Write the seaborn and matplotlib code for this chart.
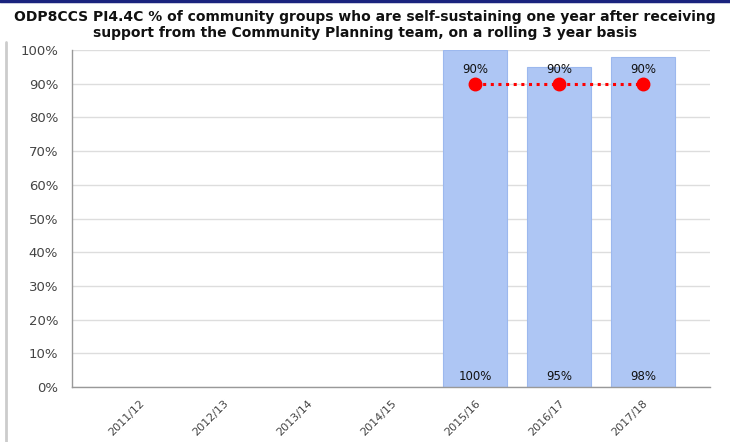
import pandas as pd
import seaborn as sns
import matplotlib.pyplot as plt
from matplotlib.lines import Line2D

years = ['2011/12', '2012/13', '2013/14', '2014/15', '2015/16', '2016/17', '2017/18']
actual = [None, None, None, None, 100, 95, 98]
target = [None, None, None, None, 90, 90, 90]

df = pd.DataFrame({'Year': years, 'Actual': actual, 'Target': target})

sns.set_style('white')
plt.rcParams['font.family'] = ['DejaVu Sans']

fig = plt.figure(figsize=(7.3, 4.42), dpi=100)
ax = fig.add_axes([72/730, 1 - 387/442, 638/730, 337/442])

sns.barplot(x='Year', y='Actual', data=df, order=years, color='#aec6f4',
            width=0.76, ax=ax, saturation=1, edgecolor='#9cb8ee', linewidth=0.8)

pos = list(range(len(years)))
tx = [p for p, t in zip(pos, target) if t is not None]
ty = [t for t in target if t is not None]
ax.plot(tx, ty, color='red', linestyle=(0, (1, 1.5)), linewidth=2.2,
        marker='o', markersize=9, zorder=5)

for p, a, t in zip(pos, actual, target):
    if a is not None:
        ax.text(p, 1.3, f'{a}%', ha='center', va='bottom', fontsize=8.5, color='#111111')
    if t is not None:
        ax.text(p, t + 2.3, f'{t}%', ha='center', va='bottom', fontsize=8.5, color='#111111')

ax.set_xlim(-0.8, 6.8)
ax.set_ylim(0, 100)
ax.set_yticks(range(0, 101, 10))
ax.set_yticklabels([f'{v}%' for v in range(0, 101, 10)], fontsize=9.5, color='#444444')
ax.set_xticks(pos)
ax.set_xticklabels(years, rotation=45, fontsize=8, color='#444444',
                   ha='right', rotation_mode='anchor')
ax.tick_params(axis='both', length=4, color='#999999', direction='out')
ax.tick_params(axis='y', pad=6)
ax.tick_params(axis='x', pad=4)
ax.set_xlabel('')
ax.set_ylabel('')
ax.yaxis.grid(True, color='#dddddd', linewidth=1)
ax.set_axisbelow(True)
for s in ['top', 'right']:
    ax.spines[s].set_visible(False)
for s in ['left', 'bottom']:
    ax.spines[s].set_color('#999999')
    ax.spines[s].set_linewidth(1)

fig.text(0.5, 1 - 25/442,
         'ODP8CCS PI4.4C % of community groups who are self-sustaining one year after receiving\n'
         'support from the Community Planning team, on a rolling 3 year basis',
         ha='center', va='center', fontsize=10, fontweight='bold', color='#111111',
         linespacing=1.15)

# frame decorations
fig.add_artist(Line2D([0, 1], [1 - 1/442, 1 - 1/442], color='#1a237e', linewidth=2.5))
fig.add_artist(Line2D([6/730, 6/730], [0, 1 - 42/442], color='#cccccc', linewidth=2))

fig.savefig('out.png', dpi=100)
